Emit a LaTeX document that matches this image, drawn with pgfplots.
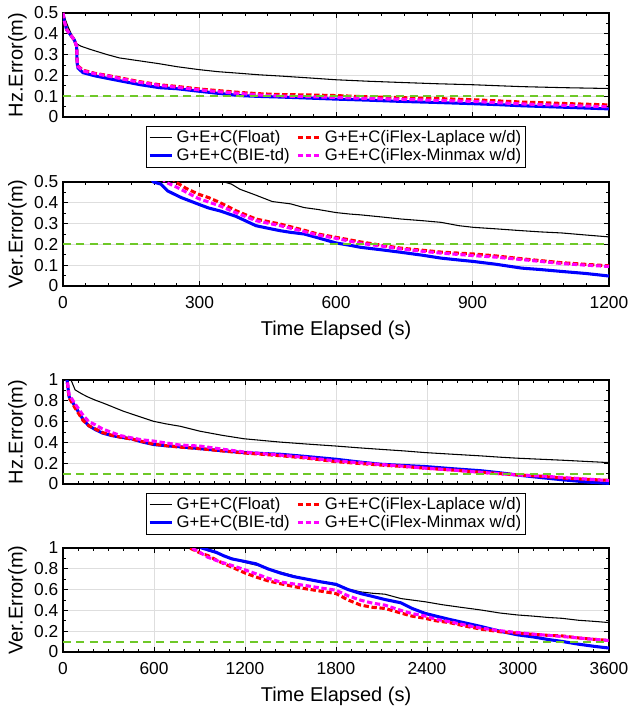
\documentclass[border=0pt]{standalone}
\usepackage{fontspec}
\setmainfont{Liberation Sans}
\usepackage{pgfplots}
\pgfplotsset{compat=1.18}
\definecolor{thr}{RGB}{110,200,40}
\definecolor{mag}{RGB}{255,0,255}
\pgfplotsset{
  panel/.style={
    scale only axis, width=409.5pt, height=78pt,
    xmin=0, clip=true,
    grid=major, major grid style={color=black!13, line width=0.6pt},
    axis line style={line width=0.9pt},
    tick align=inside, tick pos=both,
    major tick length=3.5pt, minor tick length=2pt,
    every tick/.style={black, line width=0.6pt},
    minor x tick num=5, minor y tick num=1,
    /pgf/number format/assume math mode=true,
    /pgf/number format/1000 sep={},
    ticklabel style={font=\fontsize{13}{15}\selectfont},
    xticklabel style={yshift=-4.6pt},
    label style={font=\fontsize{15}{17}\selectfont},
    ylabel style={at={(axis description cs:-0.066,0.5)}, anchor=south, inner sep=0pt},
    xlabel style={at={(axis description cs:0.5,-0.335)}, anchor=north, inner sep=0pt},
  },
  fl/.style={black, line width=0.8pt},
  bie/.style={blue, line width=2.3pt},
  lap/.style={red, line width=2.3pt, dash pattern=on 4pt off 2pt},
  mm/.style={mag, line width=2.3pt, dash pattern=on 4pt off 2pt},
  th/.style={thr, line width=1.4pt, dash pattern=on 6pt off 4pt},
  leg/.style={legend columns=2, transpose legend,
    legend style={at={(0.5,-0.083)}, anchor=north,
    font=\fontsize{12.5}{14}\selectfont, draw=black, line width=0.7pt,
    inner xsep=1pt, inner ysep=1.5pt, row sep=-1pt,
    /tikz/every even column/.append style={column sep=3pt}},
    legend cell align=left},
}
\begin{document}
\begin{tikzpicture}
\useasboundingbox (0,0) rectangle (472.5pt,-532.5pt);
% ---------------- Panel 1
\begin{axis}[panel, leg, at={(47.25pt,-87.75pt)}, anchor=south west,
  xmax=1200, ymin=0, ymax=0.5,
  xtick={0,300,600,900,1200}, xticklabels={},
  ytick={0,0.1,0.2,0.3,0.4,0.5},
  ylabel={Hz.Error(m)}]
\addplot[fl] coordinates {(0,0.50)(5,0.47)(10,0.44)(18,0.40)(27,0.355)(40,0.34)(60,0.325)(97,0.30)(124,0.284)(168,0.270)(212,0.256)(250,0.242)(298,0.228)(340,0.218)(389,0.210)(430,0.203)(477,0.197)(540,0.188)(600,0.179)(670,0.172)(743,0.166)(820,0.160)(902,0.155)(960,0.150)(1008,0.146)(1100,0.141)(1200,0.137)};
\addlegendentry{G+E+C(Float)}
\addplot[bie] coordinates {(0,0.50)(3,0.46)(8,0.42)(15,0.40)(25,0.37)(30,0.34)(31,0.26)(33,0.235)(44,0.213)(70,0.198)(97,0.186)(130,0.172)(168,0.156)(212,0.141)(250,0.136)(298,0.124)(340,0.114)(389,0.103)(430,0.099)(477,0.096)(540,0.091)(600,0.086)(670,0.081)(743,0.075)(820,0.070)(902,0.064)(960,0.059)(1008,0.054)(1100,0.047)(1200,0.039)};
\addlegendentry{G+E+C(BIE-td)}
\addplot[lap] coordinates {(0,0.50)(3,0.46)(8,0.42)(15,0.40)(25,0.37)(30,0.34)(31,0.27)(33,0.245)(44,0.225)(70,0.210)(97,0.200)(130,0.186)(168,0.170)(212,0.155)(250,0.147)(298,0.135)(340,0.127)(389,0.118)(430,0.112)(477,0.108)(540,0.106)(600,0.103)(670,0.097)(743,0.093)(820,0.089)(902,0.083)(960,0.077)(1008,0.072)(1100,0.065)(1200,0.058)};
\addlegendentry{G+E+C(iFlex-Laplace w/d)}
\addplot[mm] coordinates {(0,0.50)(3,0.46)(8,0.42)(15,0.40)(25,0.37)(30,0.34)(31,0.27)(33,0.242)(44,0.222)(70,0.208)(97,0.198)(130,0.183)(168,0.167)(212,0.152)(250,0.143)(298,0.131)(340,0.122)(389,0.113)(430,0.106)(477,0.101)(540,0.098)(600,0.094)(670,0.089)(743,0.085)(820,0.080)(902,0.075)(960,0.068)(1008,0.063)(1100,0.056)(1200,0.049)};
\addlegendentry{G+E+C(iFlex-Minmax w/d)}
\addplot[th, forget plot] coordinates {(0,0.1)(1200,0.1)};
\end{axis}
% ---------------- Panel 2
\begin{axis}[panel, at={(47.25pt,-214.5pt)}, anchor=south west,
  xmax=1200, ymin=0, ymax=0.5,
  xtick={0,300,600,900,1200},
  ytick={0,0.1,0.2,0.3,0.4,0.5},
  ylabel={Ver.Error(m)}, xlabel={Time Elapsed (s)}]
\addplot[fl] coordinates {(330,0.55)(354,0.50)(370,0.49)(389,0.465)(420,0.44)(460,0.406)(500,0.395)(530,0.377)(560,0.368)(600,0.353)(630,0.346)(654,0.342)(700,0.332)(743,0.322)(790,0.314)(831,0.306)(870,0.290)(902,0.282)(950,0.275)(1008,0.266)(1050,0.260)(1096,0.255)(1150,0.245)(1200,0.236)};
\addplot[bie] coordinates {(180,0.55)(199,0.50)(215,0.49)(230,0.457)(260,0.425)(298,0.393)(320,0.375)(345,0.361)(380,0.335)(424,0.290)(450,0.278)(477,0.266)(500,0.258)(530,0.250)(560,0.232)(600,0.207)(630,0.196)(654,0.186)(700,0.174)(743,0.162)(790,0.148)(831,0.134)(870,0.125)(902,0.118)(950,0.105)(1008,0.086)(1050,0.079)(1096,0.070)(1150,0.060)(1200,0.048)};
\addplot[lap] coordinates {(225,0.55)(248,0.50)(270,0.47)(298,0.441)(320,0.425)(345,0.401)(380,0.362)(424,0.322)(450,0.310)(477,0.298)(530,0.268)(560,0.250)(600,0.234)(654,0.212)(700,0.196)(743,0.182)(790,0.172)(831,0.163)(902,0.154)(950,0.145)(1008,0.131)(1050,0.122)(1096,0.112)(1150,0.104)(1200,0.097)};
\addplot[mm] coordinates {(205,0.55)(225,0.50)(250,0.475)(298,0.420)(320,0.404)(345,0.385)(380,0.352)(424,0.314)(450,0.302)(477,0.290)(530,0.262)(560,0.245)(600,0.229)(654,0.205)(700,0.192)(743,0.178)(790,0.167)(831,0.158)(902,0.146)(950,0.139)(1008,0.127)(1050,0.118)(1096,0.108)(1150,0.100)(1200,0.094)};
\addplot[th] coordinates {(0,0.2)(1200,0.2)};
\end{axis}
% ---------------- Panel 3
\begin{axis}[panel, leg, at={(47.25pt,-363pt)}, anchor=south west,
  xmax=3600, ymin=0, ymax=1,
  xtick={0,600,1200,1800,2400,3000,3600}, xticklabels={},
  ytick={0,0.2,0.4,0.6,0.8,1},
  ylabel={Hz.Error(m)}]
\addplot[fl] coordinates {(40,1.05)(53,1.0)(80,0.905)(120,0.87)(159,0.84)(210,0.808)(265,0.778)(330,0.74)(398,0.70)(500,0.65)(597,0.603)(680,0.578)(770,0.556)(902,0.508)(1050,0.468)(1194,0.435)(1320,0.418)(1433,0.403)(1600,0.385)(1800,0.365)(1950,0.348)(2097,0.333)(2250,0.318)(2388,0.302)(2560,0.287)(2760,0.270)(2880,0.258)(2998,0.248)(3150,0.238)(3290,0.229)(3450,0.217)(3600,0.206)};
\addlegendentry{G+E+C(Float)}
\addplot[bie] coordinates {(15,1.05)(27,1.0)(40,0.84)(80,0.746)(133,0.62)(170,0.56)(212,0.524)(260,0.49)(318,0.467)(380,0.45)(451,0.435)(520,0.405)(597,0.38)(700,0.365)(770,0.358)(902,0.34)(1050,0.32)(1194,0.302)(1320,0.293)(1433,0.286)(1600,0.265)(1800,0.238)(1950,0.212)(2097,0.19)(2250,0.178)(2388,0.168)(2560,0.148)(2760,0.127)(2880,0.108)(2998,0.086)(3150,0.062)(3290,0.041)(3450,0.020)(3600,0.006)};
\addlegendentry{G+E+C(BIE-td)}
\addplot[lap] coordinates {(15,1.05)(27,1.0)(40,0.83)(80,0.73)(133,0.61)(170,0.56)(212,0.53)(260,0.495)(318,0.47)(380,0.45)(451,0.432)(520,0.41)(597,0.383)(700,0.365)(770,0.355)(902,0.34)(1050,0.318)(1194,0.298)(1320,0.285)(1433,0.272)(1600,0.25)(1800,0.215)(1950,0.198)(2097,0.182)(2250,0.168)(2388,0.152)(2560,0.135)(2760,0.112)(2880,0.100)(2998,0.088)(3150,0.075)(3290,0.058)(3450,0.045)(3600,0.035)};
\addlegendentry{G+E+C(iFlex-Laplace w/d)}
\addplot[mm] coordinates {(15,1.05)(27,1.0)(40,0.86)(80,0.77)(133,0.66)(170,0.60)(212,0.57)(260,0.53)(318,0.498)(380,0.465)(451,0.444)(520,0.425)(597,0.413)(700,0.39)(770,0.375)(902,0.365)(1050,0.335)(1194,0.308)(1320,0.292)(1433,0.278)(1600,0.255)(1800,0.222)(1950,0.205)(2097,0.188)(2250,0.17)(2388,0.152)(2560,0.135)(2760,0.112)(2880,0.098)(2998,0.086)(3150,0.078)(3290,0.063)(3450,0.048)(3600,0.033)};
\addlegendentry{G+E+C(iFlex-Minmax w/d)}
\addplot[th, forget plot] coordinates {(0,0.1)(3600,0.1)};
\end{axis}
% ---------------- Panel 4
\begin{axis}[panel, at={(47.25pt,-489pt)}, anchor=south west,
  xmax=3600, ymin=0, ymax=1,
  xtick={0,600,1200,1800,2400,3000,3600},
  ytick={0,0.2,0.4,0.6,0.8,1},
  ylabel={Ver.Error(m)}, xlabel={Time Elapsed (s)}]
\addplot[fl] coordinates {(900,1.05)(955,0.975)(1010,0.95)(1061,0.927)(1120,0.90)(1194,0.863)(1290,0.83)(1380,0.79)(1480,0.75)(1592,0.705)(1700,0.67)(1800,0.641)(1880,0.605)(1963,0.578)(2040,0.565)(2122,0.556)(2228,0.514)(2300,0.50)(2388,0.483)(2500,0.455)(2627,0.429)(2700,0.415)(2760,0.403)(2880,0.375)(2998,0.356)(3100,0.345)(3200,0.332)(3290,0.324)(3400,0.305)(3500,0.295)(3600,0.283)};
\addplot[bie] coordinates {(880,1.05)(915,1.0)(960,0.98)(1008,0.96)(1060,0.925)(1114,0.895)(1200,0.87)(1273,0.848)(1350,0.80)(1433,0.759)(1520,0.725)(1592,0.705)(1700,0.675)(1800,0.651)(1880,0.60)(1963,0.562)(2040,0.535)(2122,0.505)(2228,0.473)(2300,0.42)(2388,0.371)(2460,0.345)(2547,0.314)(2650,0.28)(2760,0.244)(2880,0.20)(2998,0.165)(3100,0.145)(3200,0.12)(3290,0.102)(3400,0.075)(3500,0.055)(3600,0.038)};
\addplot[lap] coordinates {(800,1.05)(836,1.0)(900,0.955)(955,0.927)(1030,0.87)(1114,0.816)(1200,0.76)(1273,0.721)(1350,0.685)(1433,0.657)(1520,0.63)(1592,0.61)(1700,0.585)(1800,0.562)(1880,0.50)(1963,0.451)(2040,0.43)(2122,0.419)(2228,0.375)(2300,0.345)(2388,0.324)(2460,0.30)(2547,0.283)(2650,0.25)(2760,0.219)(2880,0.195)(2998,0.181)(3100,0.170)(3200,0.160)(3290,0.155)(3400,0.135)(3500,0.122)(3600,0.111)};
\addplot[mm] coordinates {(815,1.05)(849,1.0)(900,0.96)(955,0.911)(1030,0.87)(1114,0.832)(1200,0.79)(1273,0.752)(1350,0.71)(1433,0.673)(1520,0.655)(1592,0.641)(1700,0.615)(1800,0.594)(1880,0.54)(1963,0.498)(2040,0.47)(2122,0.451)(2228,0.40)(2300,0.37)(2388,0.346)(2460,0.315)(2547,0.292)(2650,0.26)(2760,0.229)(2880,0.205)(2998,0.187)(3100,0.172)(3200,0.160)(3290,0.149)(3400,0.135)(3500,0.122)(3600,0.111)};
\addplot[th] coordinates {(0,0.1)(3600,0.1)};
\end{axis}
\end{tikzpicture}
\end{document}
